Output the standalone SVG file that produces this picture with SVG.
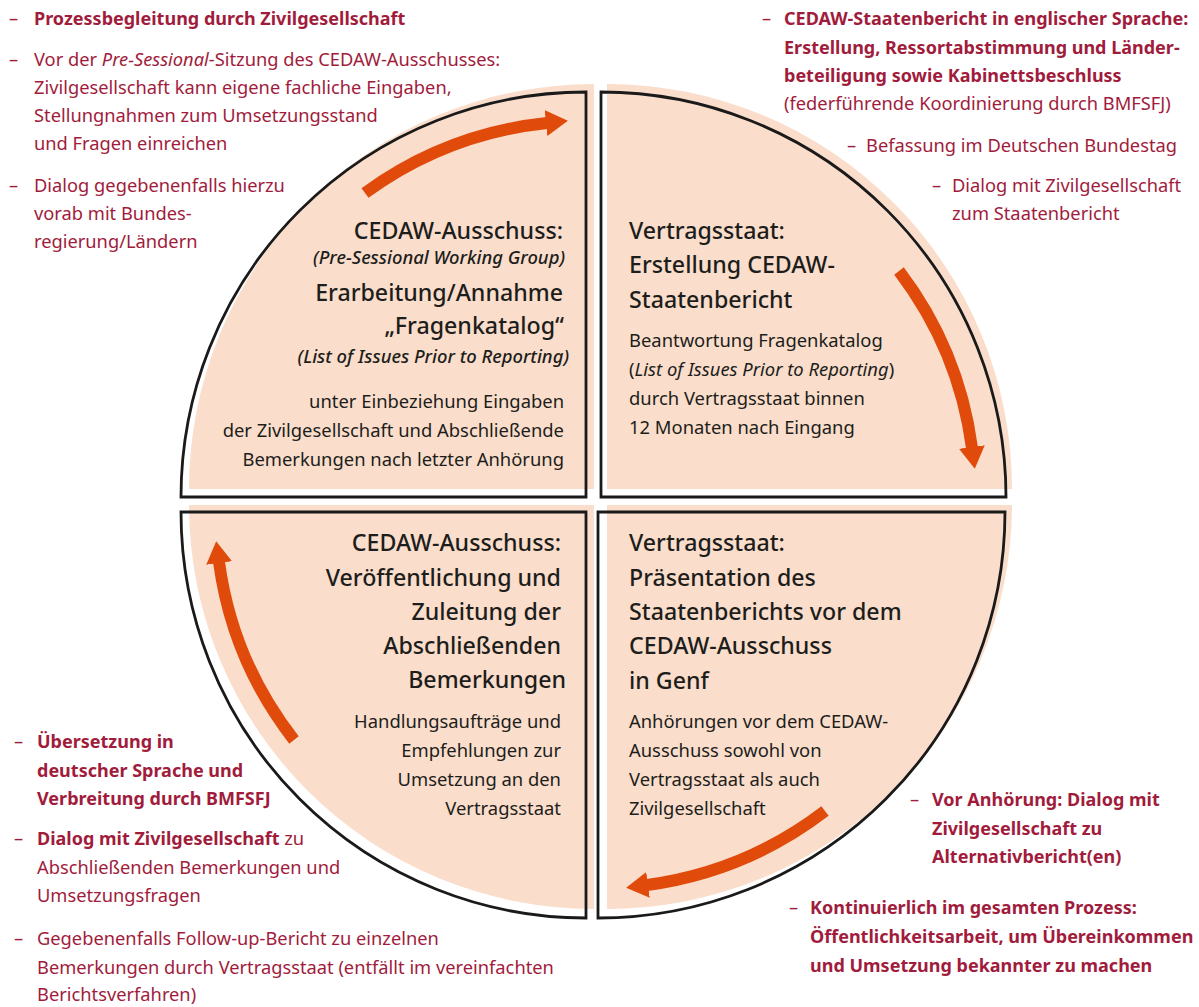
<svg xmlns="http://www.w3.org/2000/svg" width="1199" height="1007" viewBox="0 0 1199 1007">
<defs>
<style>
text{font-family:"Noto Sans","Open Sans",sans-serif;font-size:18.4px}
.qf{fill:#FADDCB}
.ql{fill:none;stroke:#1a1a1a;stroke-width:2.8}
.arr{fill:none;stroke:#E04B0C;stroke-width:12;marker-end:url(#head)}
.h{font-size:23.2px;fill:#1d1d1b;font-weight:500}
.k{fill:#1d1d1b}
.r{fill:#A11C3C;font-size:18.3px}
.bd{font-weight:700;font-size:18px}
.it{font-style:italic}
.e{text-anchor:end}
</style>
<marker id="head" markerUnits="userSpaceOnUse" markerWidth="22" markerHeight="26" viewBox="0 0 22 26" refX="1" refY="13" orient="auto">
<path d="M0,0 L22,13 L0,26 Z" fill="#E04B0C"/>
</marker>
</defs>
<rect width="1199" height="1007" fill="#ffffff"/>

<g id="node-ausschuss-fragenkatalog">
<path class="qf" d="M594,489 L189,489 A405,405 0 0 1 594,84 Z"/>
<path class="ql" d="M586,497 L181,497 A405,405 0 0 1 586,92 Z"/>
<text class="h e" x="563" y="239">CEDAW-Ausschuss:</text>
<text class="k e it" x="565" y="264" font-size="18px" font-weight="500">(Pre-Sessional Working Group)</text>
<text class="h e" x="563" y="301">Erarbeitung/Annahme</text>
<text class="h e" x="564" y="334">„Fragenkatalog“</text>
<text class="k e it" x="569" y="363" font-size="18px" font-weight="500">(List of Issues Prior to Reporting)</text>
<text class="k e" x="564" y="408">unter Einbeziehung Eingaben</text>
<text class="k e" x="564" y="437">der Zivilgesellschaft und Abschließende</text>
<text class="k e" x="564" y="466">Bemerkungen nach letzter Anhörung</text>
</g>

<g id="node-staat-erstellung">
<path class="qf" d="M607,489 L607,84 A405,405 0 0 1 1012,489 Z"/>
<path class="ql" d="M601,497 L601,92 A405,405 0 0 1 1006,497 Z"/>
<text class="h" x="629" y="239">Vertragsstaat:</text>
<text class="h" x="629" y="273">Erstellung CEDAW-</text>
<text class="h" x="629" y="308">Staatenbericht</text>
<text class="k" x="629" y="347">Beantwortung Fragenkatalog</text>
<text class="k" x="629" y="376">(<tspan class="it">List of Issues Prior to Reporting</tspan>)</text>
<text class="k" x="629" y="405">durch Vertragsstaat binnen</text>
<text class="k" x="629" y="434">12 Monaten nach Eingang</text>
</g>

<g id="node-staat-praesentation">
<path class="qf" d="M607,505 L1012,505 A405,405 0 0 1 607,909 Z"/>
<path class="ql" d="M598,512 L1005,512 A407,406 0 0 1 598,918 Z"/>
<text class="h" x="629" y="551">Vertragsstaat:</text>
<text class="h" x="629" y="586">Präsentation des</text>
<text class="h" x="629" y="620">Staatenberichts vor dem</text>
<text class="h" x="629" y="654">CEDAW-Ausschuss</text>
<text class="h" x="629" y="689">in Genf</text>
<text class="k" x="629" y="728">Anhörungen vor dem CEDAW-</text>
<text class="k" x="629" y="757">Ausschuss sowohl von</text>
<text class="k" x="629" y="786">Vertragsstaat als auch</text>
<text class="k" x="629" y="815">Zivilgesellschaft</text>
</g>

<g id="node-ausschuss-bemerkungen">
<path class="qf" d="M189,505 L594,505 L594,909 A405,404 0 0 1 189,505 Z"/>
<path class="ql" d="M181,512 L586,512 L586,918 A405,406 0 0 1 181,512 Z"/>
<text class="h e" x="561" y="551">CEDAW-Ausschuss:</text>
<text class="h e" x="561" y="586">Veröffentlichung und</text>
<text class="h e" x="561" y="620">Zuleitung der</text>
<text class="h e" x="561" y="654">Abschließenden</text>
<text class="h e" x="566" y="688">Bemerkungen</text>
<text class="k e" x="561" y="728">Handlungsaufträge und</text>
<text class="k e" x="561" y="757">Empfehlungen zur</text>
<text class="k e" x="561" y="786">Umsetzung an den</text>
<text class="k e" x="561" y="815">Vertragsstaat</text>
</g>

<g id="connectors">
<path class="arr" d="M365,193 A376,376 0 0 1 547,123"/>
<path class="arr" d="M899,271 A374,374 0 0 1 972,448"/>
<path class="arr" d="M825,811 A376,376 0 0 1 647,885"/>
<path class="arr" d="M294,740 A370,370 0 0 1 219,562"/>
</g>

<g id="notes-top-left">
<text class="r" x="9" y="25">–</text>
<text class="r bd" x="34" y="25">Prozessbegleitung durch Zivilgesellschaft</text>
<text class="r" x="9" y="66">–</text>
<text class="r" x="34" y="66">Vor der <tspan class="it">Pre-Sessional</tspan>-Sitzung des CEDAW-Ausschusses:</text>
<text class="r" x="34" y="94">Zivilgesellschaft kann eigene fachliche Eingaben,</text>
<text class="r" x="34" y="122">Stellungnahmen zum Umsetzungsstand</text>
<text class="r" x="34" y="150">und Fragen einreichen</text>
<text class="r" x="9" y="192">–</text>
<text class="r" x="34" y="192">Dialog gegebenenfalls hierzu</text>
<text class="r" x="34" y="220">vorab mit Bundes-</text>
<text class="r" x="34" y="248">regierung/Ländern</text>
</g>

<g id="notes-top-right">
<text class="r" x="762" y="25">–</text>
<text class="r bd" x="784" y="25">CEDAW-Staatenbericht in englischer Sprache:</text>
<text class="r bd" x="784" y="54">Erstellung, Ressortabstimmung und Länder-</text>
<text class="r bd" x="784" y="82">beteiligung sowie Kabinettsbeschluss</text>
<text class="r" x="784" y="110">(federführende Koordinierung durch BMFSFJ)</text>
<text class="r" x="847" y="152">–</text>
<text class="r" x="866" y="152">Befassung im Deutschen Bundestag</text>
<text class="r" x="932" y="192">–</text>
<text class="r" x="952" y="192">Dialog mit Zivilgesellschaft</text>
<text class="r" x="952" y="220">zum Staatenbericht</text>
</g>

<g id="notes-bottom-left">
<text class="r" x="14" y="748">–</text>
<text class="r bd" x="37" y="748">Übersetzung in</text>
<text class="r bd" x="37" y="777">deutscher Sprache und</text>
<text class="r bd" x="37" y="805">Verbreitung durch BMFSFJ</text>
<text class="r" x="14" y="845">–</text>
<text class="r" x="37" y="845"><tspan class="bd">Dialog mit Zivilgesellschaft</tspan> zu</text>
<text class="r" x="37" y="874">Abschließenden Bemerkungen und</text>
<text class="r" x="37" y="902">Umsetzungsfragen</text>
<text class="r" x="14" y="945">–</text>
<text class="r" x="37" y="945">Gegebenenfalls Follow-up-Bericht zu einzelnen</text>
<text class="r" x="37" y="974">Bemerkungen durch Vertragsstaat (entfällt im vereinfachten</text>
<text class="r" x="37" y="1001">Berichtsverfahren)</text>
</g>

<g id="notes-bottom-right">
<text class="r" x="910" y="806">–</text>
<text class="r bd" x="932" y="806">Vor Anhörung: Dialog mit</text>
<text class="r bd" x="932" y="835">Zivilgesellschaft zu</text>
<text class="r bd" x="932" y="863">Alternativbericht(en)</text>
<text class="r" x="789" y="914">–</text>
<text class="r bd" x="810" y="914">Kontinuierlich im gesamten Prozess:</text>
<text class="r bd" x="810" y="943">Öffentlichkeitsarbeit, um Übereinkommen</text>
<text class="r bd" x="810" y="972">und Umsetzung bekannter zu machen</text>
</g>
</svg>
